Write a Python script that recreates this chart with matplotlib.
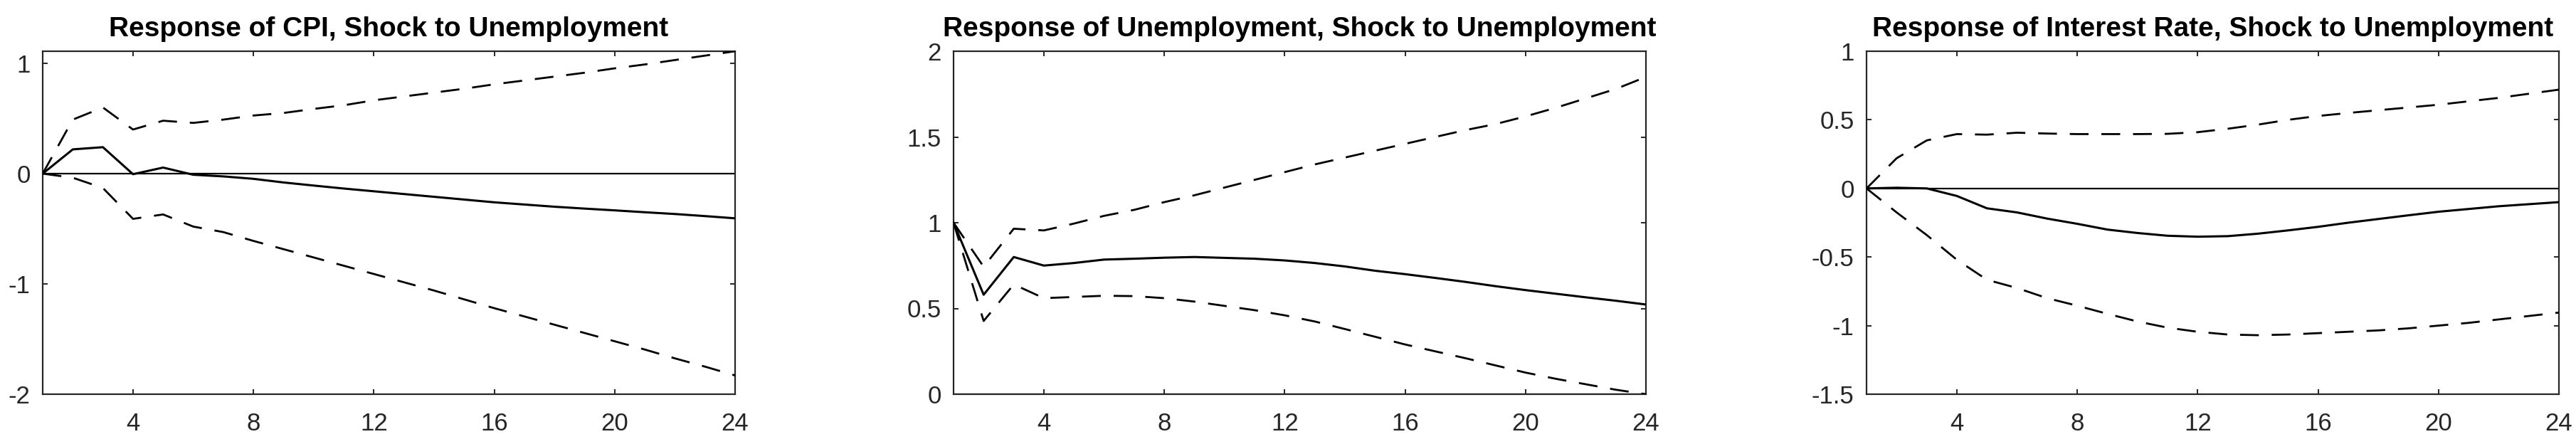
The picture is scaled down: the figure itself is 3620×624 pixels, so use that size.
import matplotlib
matplotlib.use("Agg")
import matplotlib.pyplot as plt
import numpy as np

plt.rcParams['font.family'] = ['Liberation Sans', 'DejaVu Sans']
plt.rcParams['axes.unicode_minus'] = False

horizon = list(range(1, 25))

titles = ["Response of CPI, Shock to Unemployment",
          "Response of Unemployment, Shock to Unemployment",
          "Response of Interest Rate, Shock to Unemployment"]

# Panel 1: CPI
cpi_resp = [0.0, 0.22, 0.24, -0.005, 0.055, -0.01, -0.025, -0.047, -0.08, -0.108,
            -0.135, -0.16, -0.185, -0.21, -0.235, -0.26, -0.28, -0.30, -0.317,
            -0.333, -0.35, -0.366, -0.385, -0.405]
cpi_upper = [0.0, 0.49, 0.60, 0.40, 0.48, 0.46, 0.49, 0.527, 0.55, 0.587,
             0.62, 0.665, 0.70, 0.735, 0.77, 0.81, 0.845, 0.88, 0.915,
             0.955, 0.99, 1.03, 1.07, 1.11]
cpi_lower = [0.0, -0.037, -0.13, -0.41, -0.37, -0.48, -0.53, -0.61, -0.685, -0.76,
             -0.835, -0.91, -0.985, -1.06, -1.14, -1.22, -1.295, -1.37, -1.445,
             -1.52, -1.595, -1.675, -1.75, -1.83]

# Panel 2: Unemployment
unemp_resp = [1.0, 0.58, 0.80, 0.75, 0.765, 0.785, 0.79, 0.796, 0.80, 0.795,
              0.79, 0.78, 0.765, 0.745, 0.72, 0.70, 0.678, 0.655, 0.63,
              0.607, 0.586, 0.565, 0.545, 0.523]
unemp_upper = [1.0, 0.743, 0.965, 0.955, 0.995, 1.04, 1.075, 1.12, 1.16, 1.205,
               1.25, 1.295, 1.34, 1.38, 1.42, 1.46, 1.50, 1.54, 1.575,
               1.62, 1.67, 1.725, 1.78, 1.85]
unemp_lower = [1.0, 0.427, 0.64, 0.56, 0.567, 0.574, 0.572, 0.56, 0.54, 0.515,
               0.49, 0.46, 0.424, 0.38, 0.335, 0.29, 0.25, 0.21, 0.168,
               0.126, 0.09, 0.058, 0.026, 0.0]

# Panel 3: Interest rate
rate_resp = [0.0, 0.005, 0.0, -0.055, -0.145, -0.175, -0.22, -0.258, -0.30, -0.325,
             -0.345, -0.352, -0.348, -0.33, -0.306, -0.28, -0.25, -0.223, -0.196,
             -0.17, -0.15, -0.13, -0.115, -0.10]
rate_upper = [0.0, 0.22, 0.35, 0.396, 0.392, 0.406, 0.40, 0.396, 0.396, 0.396,
              0.398, 0.41, 0.435, 0.465, 0.50, 0.528, 0.55, 0.57, 0.59,
              0.61, 0.635, 0.66, 0.69, 0.72]
rate_lower = [0.0, -0.175, -0.34, -0.52, -0.666, -0.726, -0.80, -0.855, -0.914, -0.97,
              -1.015, -1.045, -1.065, -1.07, -1.065, -1.055, -1.045, -1.035, -1.02,
              -1.0, -0.98, -0.955, -0.93, -0.905]

ylims = [(-2.0, 1.11), (0.0, 2.0), (-1.5, 1.0)]
yticks = [[-2, -1, 0, 1], [0, 0.5, 1, 1.5, 2], [-1.5, -1, -0.5, 0, 0.5, 1]]
ytick_labels = [["-2", "-1", "0", "1"], ["0", "0.5", "1", "1.5", "2"],
                ["-1.5", "-1", "-0.5", "0", "0.5", "1"]]
xticks = [4, 8, 12, 16, 20, 24]
xtick_labels = ["4", "8", "12", "16", "20", "24"]

panels = [(cpi_resp, cpi_upper, cpi_lower),
          (unemp_resp, unemp_upper, unemp_lower),
          (rate_resp, rate_upper, rate_lower)]

W, H = 3620, 624
fig = plt.figure(figsize=(W / 100, H / 100), dpi=100)
lefts = [60, 1340, 2623]
ax_w = 973
ax_top, ax_bot = 72, 554
axcol = '#262626'
dash = (0, (9.5, 6.5))

for i, (resp, up, lo) in enumerate(panels):
    ax = fig.add_axes([lefts[i] / W, 1 - ax_bot / H, ax_w / W, (ax_bot - ax_top) / H])
    ax.axhline(0, color='black', lw=1.6, zorder=2)
    ax.plot(horizon, resp, color='black', lw=2.2, zorder=3)
    ax.plot(horizon, up, color='black', lw=2.0, linestyle=dash, zorder=3)
    ax.plot(horizon, lo, color='black', lw=2.0, linestyle=dash, zorder=3)
    ax.set_xlim(1, 24)
    ax.set_ylim(*ylims[i])
    ax.set_xticks(xticks)
    ax.set_xticklabels(xtick_labels)
    ax.set_yticks(yticks[i])
    ax.set_yticklabels(ytick_labels[i])
    ax.tick_params(axis='both', direction='in', length=5, width=1.4, colors=axcol,
                   labelsize=25, top=True, right=True)
    ax.tick_params(axis='x', pad=18)
    ax.tick_params(axis='y', pad=12.5)
    for sp in ax.spines.values():
        sp.set_linewidth(1.6)
        sp.set_color(axcol)
    ax.set_title(titles[i], fontsize=28, fontweight='bold', pad=15, color='black')

fig.savefig("out.png", dpi=100, facecolor='white')
